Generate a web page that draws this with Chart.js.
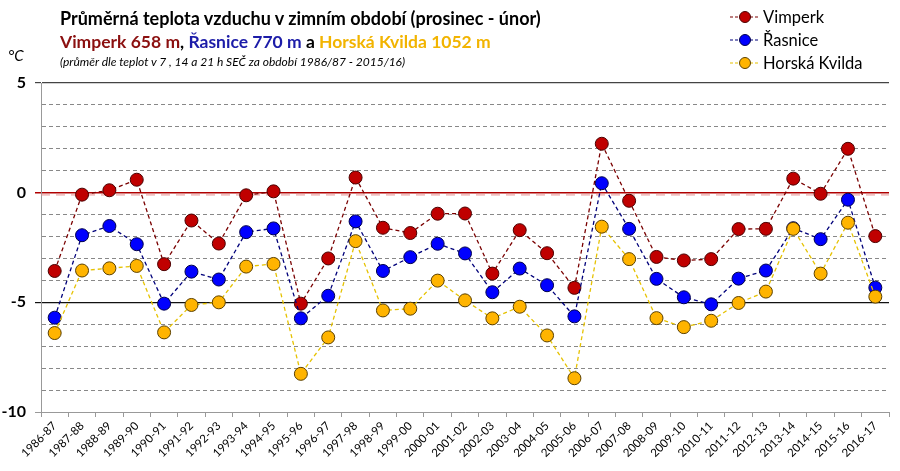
<!DOCTYPE html>
<html lang="cs">
<head>
<meta charset="utf-8">
<title>Průměrná teplota vzduchu v zimním období</title>
<script src="https://cdn.jsdelivr.net/npm/chart.js@4.4.0/dist/chart.umd.min.js"></script>
<style>
  body { margin: 0; background: #fff; font-family: Lato, "Noto Sans", sans-serif; }
  #wrap { position: relative; width: 900px; height: 471px; }
  #wrap canvas { position: absolute; left: 0; top: 0; }
  .txt { position: absolute; white-space: nowrap; color: #000; }
  .t1 { left: 60px; top: 7px; font-weight: 700; font-size: 18px; }
  .t2 { left: 60px; top: 31px; font-weight: 700; font-size: 17.5px; }
  .t3 { left: 60px; top: 54px; font-style: italic; font-size: 12px; }
  .unit { left: 8px; top: 46px; font-style: italic; font-size: 15px; }
  .red { color: #8b1010; }
  .blue { color: #1c1ca8; }
  .gold { color: #f2b400; }
  #legend { position: absolute; left: 730px; top: 5px; }
  #legend div { display: flex; align-items: center; height: 23px; font-size: 16.5px; }
  #legend svg { margin-right: 3px; }
</style>
</head>
<body>
<div id="wrap">
  <canvas id="lineChart"></canvas>
  <div class="txt t1">Průměrná teplota vzduchu v zimním období (prosinec - únor)</div>
  <div class="txt t2"><span class="red">Vimperk 658 m</span>, <span class="blue">Řasnice 770 m</span> a <span class="gold">Horská Kvilda 1052 m</span></div>
  <div class="txt t3">(průměr dle teplot v 7 , 14 a 21 h SEČ za období 1986/87 - 2015/16)</div>
  <div class="txt unit">°C</div>
  <div id="legend"></div>
</div>
<script>
// zimní období
const seasons = ['1986-87', '1987-88', '1988-89', '1989-90', '1990-91', '1991-92', '1992-93',
    '1993-94', '1994-95', '1995-96', '1996-97', '1997-98', '1998-99', '1999-00', '2000-01',
    '2001-02', '2002-03', '2003-04', '2004-05', '2005-06', '2006-07', '2007-08', '2008-09',
    '2009-10', '2010-11', '2011-12', '2012-13', '2013-14', '2014-15', '2015-16', '2016-17'];

// průměrné teploty (°C)
const vimperk = [-3.57, -0.09, 0.11, 0.59, -3.26, -1.27, -2.32, -0.12, 0.06, -5.06,
    -3.00, 0.69, -1.60, -1.84, -0.96, -0.95, -3.69, -1.71, -2.76, -4.34,
    2.23, -0.37, -2.93, -3.09, -3.03, -1.66, -1.65, 0.64, -0.05, 2.00, -1.98];
const rasnice = [-5.70, -1.94, -1.52, -2.35, -5.06, -3.60, -3.96, -1.80, -1.63, -5.73,
    -4.70, -1.31, -3.57, -2.94, -2.33, -2.77, -4.54, -3.46, -4.22, -5.64,
    0.43, -1.65, -3.93, -4.77, -5.09, -3.92, -3.55, -1.62, -2.12, -0.32, -4.33];
const kvilda = [-6.40, -3.55, -3.45, -3.34, -6.37, -5.12, -5.00, -3.37, -3.25, -8.26,
    -6.60, -2.21, -5.37, -5.29, -4.01, -4.91, -5.73, -5.20, -6.51, -8.46,
    -1.55, -3.03, -5.72, -6.13, -5.84, -5.03, -4.51, -1.65, -3.69, -1.37, -4.74];

// popisky osy y
const yLabels = [5, 0, -5, -10];

const series = [
    { label: 'Vimperk', data: vimperk, line: '#7a0000', fill: '#c00000', edge: '#4a0000', order: 3 },
    { label: 'Řasnice', data: rasnice, line: '#00007a', fill: '#0000ff', edge: '#00004a', order: 2 },
    { label: 'Horská Kvilda', data: kvilda, line: '#e6c200', fill: '#ffb400', edge: '#5a4000', order: 1 }
];

function gridStyle(v) {
    if (v === 5) return { color: '#444', width: 1.2, dash: [] };
    if (v === 0) return { color: '#b00000', width: 1.5, dash: [] };
    if (v === -5) return { color: '#111', width: 1.2, dash: [] };
    if (v === -10) return { color: '#999', width: 1, dash: [] };
    return { color: '#888', width: 1, dash: [4, 3] };
}

// světle růžová čárkovaná linka těsně pod nulou
const zeroShadow = {
    id: 'zeroShadow',
    beforeDatasetsDraw(chart) {
        const y = chart.scales.y.getPixelForValue(0) + 2;
        const { left, right } = chart.chartArea;
        const ctx = chart.ctx;
        ctx.save();
        ctx.strokeStyle = 'rgba(230, 140, 140, 0.55)';
        ctx.lineWidth = 2;
        ctx.setLineDash([9, 6]);
        ctx.beginPath();
        ctx.moveTo(left, y);
        ctx.lineTo(right, y);
        ctx.stroke();
        ctx.restore();
    }
};

function createLineChart() {
    const ctx = document.getElementById('lineChart');

    const datasets = series.map(s => ({
        label: s.label,
        data: s.data,
        borderColor: s.line,
        borderWidth: 1.3,
        borderDash: [4, 3],
        pointBackgroundColor: s.fill,
        pointBorderColor: s.edge,
        pointBorderWidth: 1,
        pointRadius: 6.5,
        tension: 0,
        fill: false,
        order: s.order
    }));

    const config = {
        type: 'line',
        data: { labels: seasons, datasets: datasets },
        plugins: [zeroShadow],
        options: {
            responsive: true,
            maintainAspectRatio: false,
            animation: false,
            layout: { padding: { top: 83, right: 11, bottom: 0, left: 0 } },
            scales: {
                x: {
                    offset: true,
                    afterFit: s => { s.height = 59; },
                    ticks: {
                        minRotation: 45,
                        maxRotation: 45,
                        autoSkip: false,
                        padding: 2,
                        color: '#000',
                        font: { family: 'Lato', size: 11.5 }
                    },
                    grid: {
                        offset: true,
                        drawOnChartArea: false,
                        tickLength: 5,
                        color: '#999'
                    },
                    border: { color: '#999', width: 1 }
                },
                y: {
                    min: -10,
                    max: 5,
                    afterFit: s => { s.width = 41; },
                    ticks: {
                        stepSize: 1,
                        autoSkip: false,
                        padding: 9,
                        color: '#000',
                        font: { family: 'Lato', size: 16, weight: 'bold' },
                        callback: v => yLabels.includes(v) ? String(v) : ''
                    },
                    grid: {
                        tickLength: 6,
                        color: c => gridStyle(c.tick ? c.tick.value : 1).color,
                        lineWidth: c => gridStyle(c.tick ? c.tick.value : 1).width,
                        tickColor: c => (c.tick && yLabels.includes(c.tick.value)) ? gridStyle(c.tick.value).color : 'rgba(0,0,0,0)'
                    },
                    border: {
                        color: '#999',
                        width: 1,
                        dash: c => gridStyle(c.tick ? c.tick.value : 1).dash
                    }
                }
            },
            plugins: {
                legend: { display: false },
                tooltip: { enabled: false }
            }
        }
    };

    window.lineChartInstance = new Chart(ctx, config);
}

// legenda vpravo nahoře
function buildLegend() {
    const box = document.getElementById('legend');
    series.forEach(s => {
        const row = document.createElement('div');
        row.innerHTML =
            '<svg width="30" height="16"><line x1="0" y1="8" x2="30" y2="8" stroke="' + s.line +
            '" stroke-width="1.2" stroke-dasharray="3,2"/><circle cx="15" cy="8" r="5.5" fill="' + s.fill +
            '" stroke="' + s.edge + '" stroke-width="1"/></svg><span>' + s.label + '</span>';
        box.appendChild(row);
    });
}

buildLegend();
createLineChart();
</script>
</body>
</html>
